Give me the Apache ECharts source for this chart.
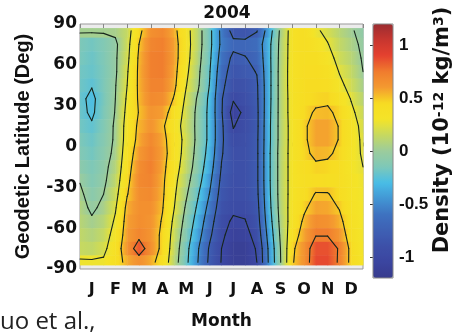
<!DOCTYPE html>
<html lang="en">
<head>
<meta charset="UTF-8">
<title>2004</title>
<style>
    html, body { margin: 0; padding: 0; background: #fff; }
    #chart { width: 454px; height: 335px; }
</style>
</head>
<body>
<div id="chart"></div>
<script src="https://cdn.jsdelivr.net/npm/echarts@6/dist/echarts.min.js"></script>
<script>
    // grid nodes: month position (0 = start of Jan) and latitude
    var months = [0, 0.5, 1, 1.5, 2, 2.5, 3, 3.5, 4, 4.5, 5, 5.5, 6, 6.5, 7, 7.5, 8, 8.5, 9, 9.5, 10, 10.5, 11, 11.5, 12];
    var lats = [85, 75, 65, 55, 45, 35, 25, 15, 5, -5, -15, -25, -35, -45, -55, -65, -75, -85];

    // density anomaly (1e-12 kg/m3), one column per month node, values by lats
    var density = [
        [0.03, -0.15, -0.16, -0.18, -0.19, -0.21, -0.20, -0.18, -0.15, -0.13, -0.08, -0.01, 0.04, 0.08, 0.10, 0.13, 0.15, 0.28],
        [0.03, -0.18, -0.20, -0.21, -0.24, -0.29, -0.28, -0.23, -0.20, -0.18, -0.15, -0.13, -0.09, -0.04, 0.03, 0.08, 0.13, 0.28],
        [0.03, -0.13, -0.14, -0.15, -0.15, -0.16, -0.15, -0.13, -0.11, -0.09, -0.06, -0.04, 0.00, 0.05, 0.10, 0.15, 0.20, 0.28],
        [0.04, -0.04, -0.03, -0.03, -0.01, 0.00, 0.01, 0.03, 0.03, 0.05, 0.09, 0.13, 0.18, 0.23, 0.28, 0.33, 0.38, 0.40],
        [0.15, 0.18, 0.20, 0.23, 0.25, 0.28, 0.31, 0.34, 0.35, 0.38, 0.41, 0.45, 0.49, 0.55, 0.58, 0.60, 0.63, 0.56],
        [0.45, 0.50, 0.53, 0.54, 0.54, 0.53, 0.51, 0.54, 0.56, 0.61, 0.66, 0.68, 0.66, 0.65, 0.66, 0.70, 0.85, 0.65],
        [0.65, 0.70, 0.73, 0.73, 0.71, 0.68, 0.63, 0.63, 0.69, 0.71, 0.73, 0.71, 0.68, 0.65, 0.63, 0.63, 0.65, 0.56],
        [0.69, 0.73, 0.74, 0.74, 0.71, 0.66, 0.59, 0.53, 0.56, 0.58, 0.56, 0.54, 0.53, 0.51, 0.48, 0.45, 0.44, 0.40],
        [0.55, 0.58, 0.58, 0.56, 0.54, 0.48, 0.40, 0.35, 0.38, 0.38, 0.35, 0.31, 0.28, 0.25, 0.20, 0.16, 0.13, 0.10],
        [0.33, 0.34, 0.33, 0.30, 0.26, 0.21, 0.18, 0.16, 0.18, 0.16, 0.13, 0.08, 0.03, -0.03, -0.08, -0.13, -0.18, -0.20],
        [0.10, 0.10, 0.08, 0.05, 0.03, -0.03, -0.06, -0.06, -0.06, -0.08, -0.11, -0.16, -0.23, -0.29, -0.35, -0.41, -0.48, -0.50],
        [-0.19, -0.19, -0.21, -0.24, -0.26, -0.30, -0.31, -0.31, -0.31, -0.34, -0.39, -0.45, -0.51, -0.58, -0.65, -0.71, -0.78, -0.80],
        [-0.56, -0.55, -0.60, -0.65, -0.69, -0.73, -0.73, -0.71, -0.71, -0.73, -0.76, -0.80, -0.84, -0.88, -0.93, -0.96, -1.00, -1.01],
        [-0.83, -0.69, -0.80, -0.85, -0.90, -0.98, -1.09, -1.01, -0.95, -0.91, -0.90, -0.91, -0.93, -0.96, -1.03, -1.09, -1.13, -1.13],
        [-0.85, -0.69, -0.76, -0.81, -0.88, -0.91, -0.95, -0.93, -0.91, -0.90, -0.90, -0.90, -0.91, -0.95, -1.01, -1.08, -1.13, -1.13],
        [-0.76, -0.65, -0.69, -0.74, -0.78, -0.79, -0.80, -0.80, -0.79, -0.79, -0.79, -0.79, -0.80, -0.83, -0.86, -0.91, -0.98, -1.00],
        [-0.38, -0.32, -0.32, -0.33, -0.33, -0.33, -0.32, -0.31, -0.31, -0.30, -0.30, -0.30, -0.31, -0.33, -0.37, -0.42, -0.47, -0.48],
        [0.04, 0.06, 0.07, 0.08, 0.08, 0.08, 0.08, 0.08, 0.08, 0.09, 0.09, 0.09, 0.09, 0.08, 0.06, 0.03, 0.00, -0.01],
        [0.36, 0.36, 0.36, 0.36, 0.36, 0.35, 0.35, 0.34, 0.34, 0.34, 0.34, 0.34, 0.34, 0.35, 0.36, 0.40, 0.46, 0.48],
        [0.42, 0.42, 0.42, 0.43, 0.44, 0.44, 0.45, 0.47, 0.47, 0.46, 0.43, 0.41, 0.43, 0.47, 0.53, 0.58, 0.64, 0.64],
        [0.28, 0.36, 0.42, 0.44, 0.45, 0.46, 0.52, 0.58, 0.58, 0.54, 0.47, 0.43, 0.51, 0.58, 0.66, 0.74, 0.86, 0.88],
        [0.20, 0.26, 0.33, 0.39, 0.43, 0.47, 0.53, 0.58, 0.58, 0.53, 0.46, 0.42, 0.51, 0.57, 0.64, 0.74, 0.86, 0.88],
        [0.10, 0.14, 0.18, 0.24, 0.30, 0.38, 0.46, 0.49, 0.49, 0.46, 0.42, 0.41, 0.44, 0.49, 0.55, 0.62, 0.73, 0.72],
        [0.02, 0.06, 0.10, 0.14, 0.18, 0.24, 0.29, 0.33, 0.33, 0.32, 0.31, 0.33, 0.34, 0.36, 0.38, 0.40, 0.44, 0.44],
        [-0.06, -0.04, -0.02, 0.00, 0.04, 0.10, 0.16, 0.20, 0.22, 0.23, 0.25, 0.27, 0.28, 0.28, 0.28, 0.28, 0.29, 0.30]
    ];

    var monthLabels = ['J', 'F', 'M', 'A', 'M', 'J', 'J', 'A', 'S', 'O', 'N', 'D'];
    var contourLevels = [-1, -0.75, -0.5, -0.25, 0, 0.25, 0.5, 0.75];
    var colorTicks = [-1, -0.5, 0, 0.5, 1];
    var colorMin = -1.2, colorMax = 1.2;
    // evenly spaced from colorMin to colorMax
    var colorStops = ['#383b8d', '#3b45a0', '#3d50a8', '#3e60b4', '#3e72c0', '#4296d4', '#48bde6', '#7ec8b8',
        '#9ccc9c', '#c6d960', '#f4e428', '#f7dc22', '#f49a30', '#f07c2e', '#e5412f', '#c8362f', '#9b2c30'];

    var halfLat = Math.abs(lats[0] - lats[1]) / 2;
    var edgeLat = 87;

    function colorOf(v) {
        var t = (v - colorMin) / (colorMax - colorMin);
        return echarts.color.lerp(Math.max(0, Math.min(1, t)), colorStops);
    }

    // one band item per pair of neighbouring month nodes
    var bands = [];
    for (var i = 0; i < months.length - 1; i++) {
        for (var j = 0; j < lats.length; j++) {
            bands.push([months[i], lats[j], density[i][j], months[i + 1], density[i + 1][j]]);
        }
    }

    function renderBand(params, api) {
        var m0 = api.value(0), lat = api.value(1), v0 = api.value(2), m1 = api.value(3), v1 = api.value(4);
        var top = Math.min(lat + halfLat, edgeLat), bottom = Math.max(lat - halfLat, -edgeLat);
        var p0 = api.coord([m0, top]), p1 = api.coord([m1, bottom]);
        var stops = [];
        for (var k = 0; k <= 4; k++) {
            stops.push({offset: k / 4, color: colorOf(v0 + (v1 - v0) * k / 4)});
        }
        return {
            type: 'rect',
            shape: {x: p0[0], y: p0[1], width: p1[0] - p0[0] + 0.5, height: p1[1] - p0[1] + 0.5},
            style: {fill: new echarts.graphic.LinearGradient(0, 0, 1, 0, stops)}
        };
    }

    // marching squares over the node grid
    function renderContours(params, api) {
        var children = [];
        function edgePoint(level, va, vb, pa, pb) {
            var t = (level - va) / (vb - va);
            return api.coord([pa[0] + t * (pb[0] - pa[0]), pa[1] + t * (pb[1] - pa[1])]);
        }
        function seg(a, b) {
            children.push({
                type: 'line',
                shape: {x1: a[0], y1: a[1], x2: b[0], y2: b[1]},
                style: {stroke: '#17251c', lineWidth: 1.1, lineCap: 'round'}
            });
        }
        contourLevels.forEach(function (level) {
            for (var i = 0; i < months.length - 1; i++) {
                for (var j = 0; j < lats.length - 1; j++) {
                    var pa = [months[i], lats[j]], pb = [months[i + 1], lats[j]],
                        pc = [months[i + 1], lats[j + 1]], pd = [months[i], lats[j + 1]];
                    var va = density[i][j], vb = density[i + 1][j],
                        vc = density[i + 1][j + 1], vd = density[i][j + 1];
                    var e = [null, null, null, null];
                    if ((va >= level) !== (vb >= level)) e[0] = edgePoint(level, va, vb, pa, pb);
                    if ((vb >= level) !== (vc >= level)) e[1] = edgePoint(level, vb, vc, pb, pc);
                    if ((vc >= level) !== (vd >= level)) e[2] = edgePoint(level, vc, vd, pc, pd);
                    if ((vd >= level) !== (va >= level)) e[3] = edgePoint(level, vd, va, pd, pa);
                    var found = e.filter(function (p) { return p; });
                    if (found.length === 2) {
                        seg(found[0], found[1]);
                    } else if (found.length === 4) {
                        var center = (va + vb + vc + vd) / 4;
                        if ((va >= level) === (center >= level)) {
                            seg(e[0], e[1]); seg(e[2], e[3]);
                        } else {
                            seg(e[3], e[0]); seg(e[1], e[2]);
                        }
                    }
                }
            }
        });
        return {type: 'group', children: children};
    }

    var boldWide = {fontFamily: 'DejaVu Sans', fontWeight: 'bold', color: '#111'};

    var option = {
        animation: false,
        backgroundColor: '#fff',
        title: {
            text: '2004',
            left: 'center',
            top: 5,
            padding: 0,
            textStyle: {fontFamily: 'DejaVu Sans', fontWeight: 'bold', fontSize: 17, color: '#111'}
        },
        grid: [
            {left: 80, top: 24, width: 283, height: 253, show: true, backgroundColor: '#ececec',
                borderColor: '#999', borderWidth: 1},
            {left: 373, top: 24, width: 20, height: 254, show: true, borderColor: '#888', borderWidth: 1, z: 10}
        ],
        xAxis: [
            {type: 'value', gridIndex: 0, min: 0, max: 12, interval: 1, position: 'bottom',
                axisLine: {show: false}, axisLabel: {show: false}, splitLine: {show: false},
                axisTick: {show: true, inside: true, length: 4, lineStyle: {color: '#888'}}},
            {type: 'value', gridIndex: 0, min: 0, max: 12, interval: 1, position: 'top',
                axisLine: {show: false}, axisLabel: {show: false}, splitLine: {show: false},
                axisTick: {show: true, inside: true, length: 4, lineStyle: {color: '#888'}}},
            {type: 'category', gridIndex: 0, data: monthLabels, position: 'bottom',
                axisLine: {show: false}, axisTick: {show: false},
                axisLabel: Object.assign({fontSize: 16, margin: 13}, boldWide),
                name: 'Month', nameLocation: 'middle', nameGap: 44,
                nameTextStyle: Object.assign({fontSize: 17}, boldWide)},
            {type: 'value', gridIndex: 1, min: 0, max: 1, show: false}
        ],
        yAxis: [
            {type: 'value', gridIndex: 0, min: -90, max: 90, interval: 30,
                axisLine: {show: false}, axisTick: {show: false}, splitLine: {show: false},
                axisLabel: Object.assign({fontSize: 17, margin: 3}, boldWide),
                name: 'Geodetic Latitude (Deg)', nameLocation: 'middle', nameGap: 47,
                nameTextStyle: {fontFamily: 'Liberation Sans', fontWeight: 'bold', fontSize: 20, color: '#111'}},
            {type: 'value', gridIndex: 1, min: colorMin, max: colorMax, position: 'right',
                axisLine: {show: false}, splitLine: {show: false},
                axisTick: {show: true, inside: true, length: 3, customValues: colorTicks, lineStyle: {color: '#333'}},
                axisLabel: {customValues: colorTicks, margin: 6, fontFamily: 'Liberation Sans', fontWeight: 'bold',
                    fontSize: 17, color: '#111'}}
        ],
        visualMap: {
            type: 'continuous',
            min: colorMin,
            max: colorMax,
            calculable: false,
            seriesIndex: 0,
            dimension: 2,
            orient: 'vertical',
            left: 373,
            top: 24,
            itemWidth: 20,
            itemHeight: 254,
            padding: 0,
            text: null,
            showLabel: false,
            hoverLink: false,
            inRange: {color: colorStops}
        },
        graphic: [
            {type: 'text', x: 0, y: 322,
                style: {text: 'uo et al.,', font: '24px "Open Sans"', fill: '#222', verticalAlign: 'middle'}},
            {type: 'text', x: 443, y: 130, rotation: Math.PI / 2,
                style: {
                    text: '{b|Density (10}{s|-12}{b| kg/m}{s|3}{b|)}',
                    align: 'center', verticalAlign: 'middle',
                    rich: {
                        b: {fontFamily: 'DejaVu Sans', fontWeight: 'bold', fontSize: 21, fill: '#111'},
                        s: {fontFamily: 'DejaVu Sans', fontWeight: 'bold', fontSize: 14, fill: '#111',
                            verticalAlign: 'top', padding: [0, 0, 8, 0]}
                    }
                }}
        ],
        series: [
            {
                type: 'custom',
                name: 'density',
                coordinateSystem: 'cartesian2d',
                xAxisIndex: 0,
                yAxisIndex: 0,
                encode: {x: [0, 3], y: 1},
                renderItem: renderBand,
                silent: true,
                data: bands
            },
            {
                type: 'custom',
                name: 'contours',
                coordinateSystem: 'cartesian2d',
                xAxisIndex: 0,
                yAxisIndex: 0,
                renderItem: renderContours,
                silent: true,
                z: 3,
                data: [[0, 0]]
            }
        ]
    };

    var chart = echarts.init(document.getElementById('chart'));
    chart.setOption(option);
</script>
</body>
</html>
